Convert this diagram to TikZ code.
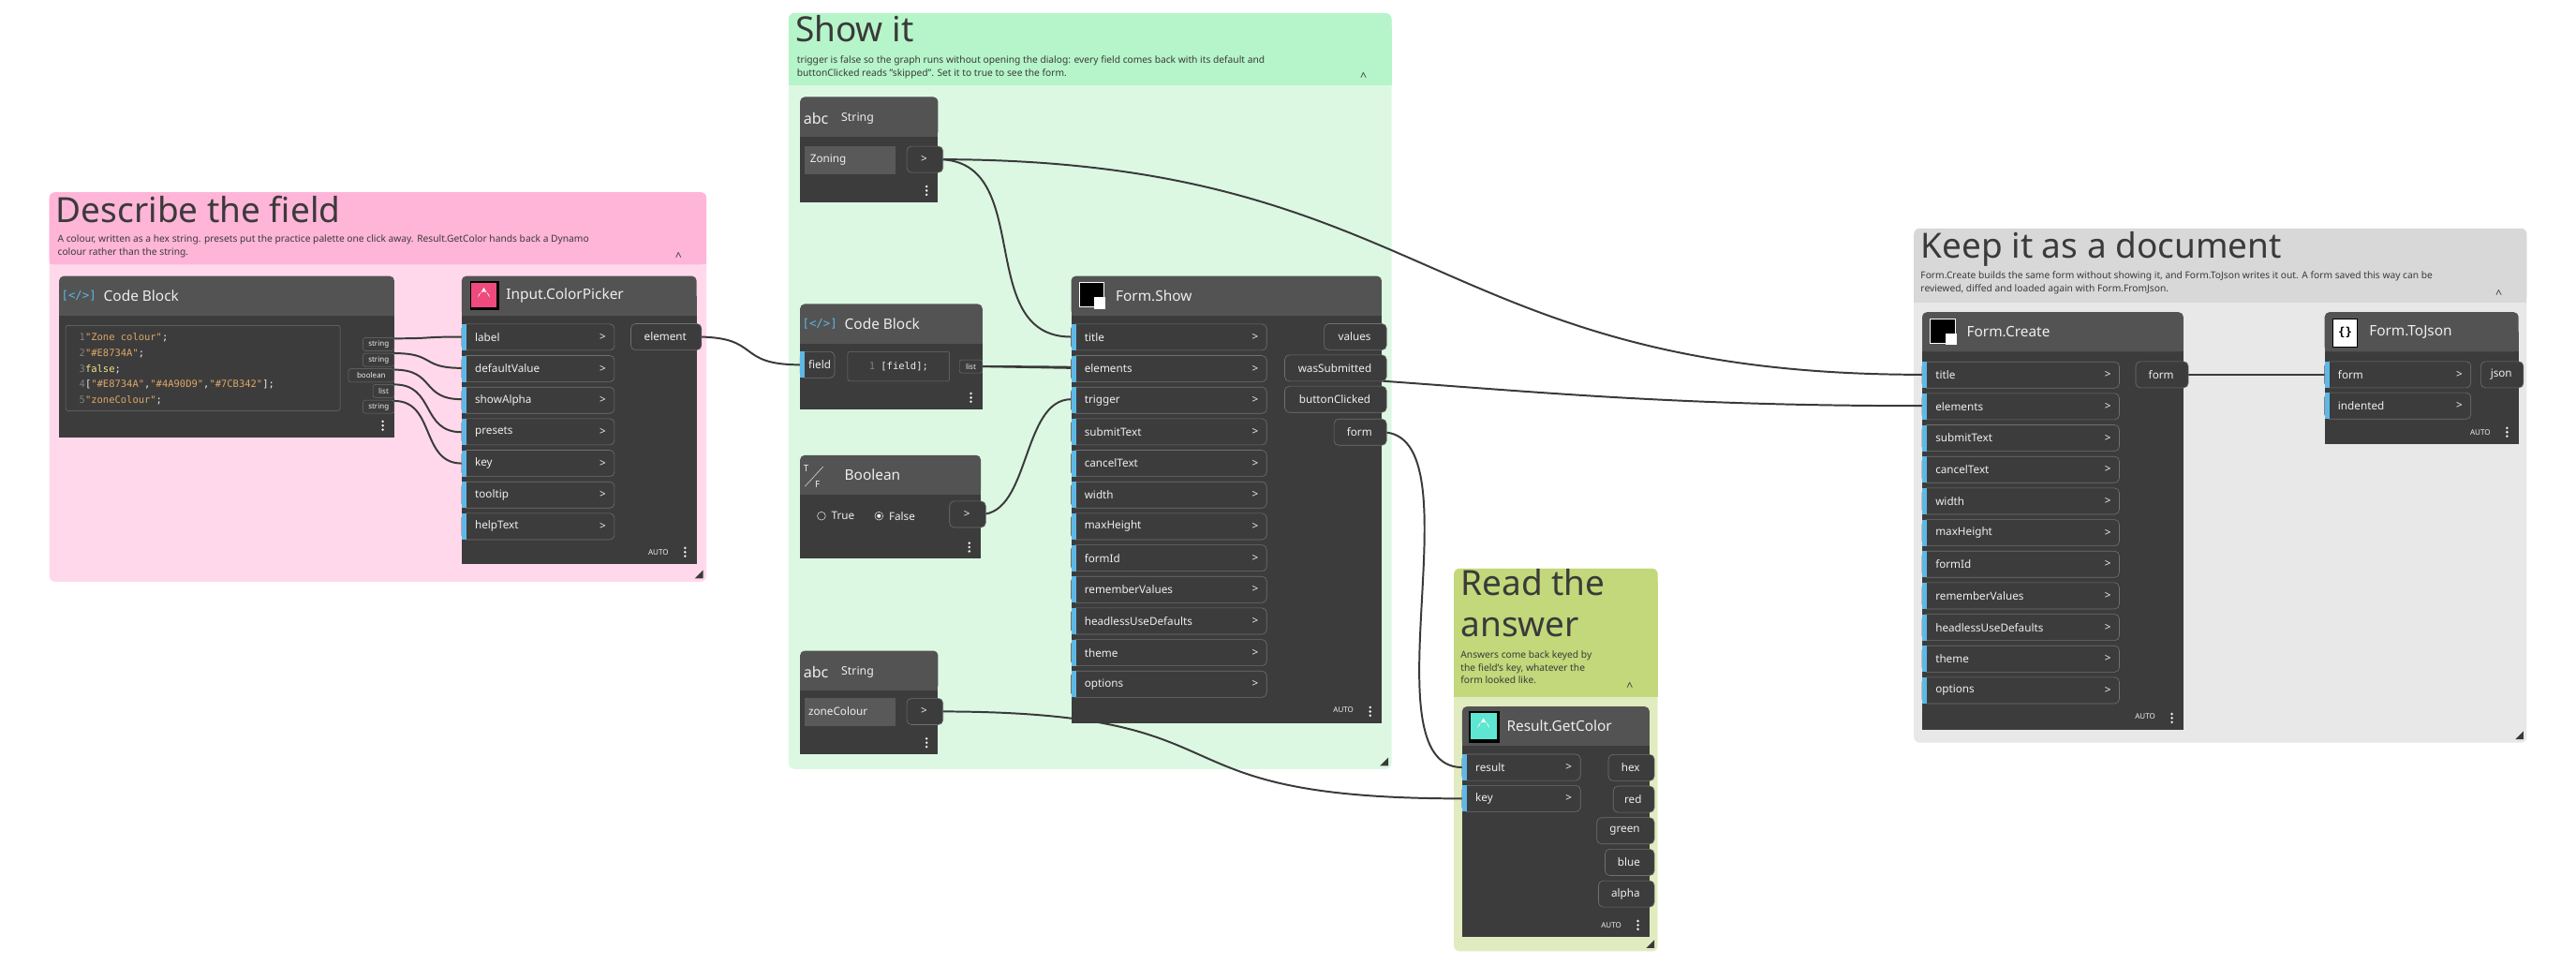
\documentclass[tikz,border=0pt]{standalone}
\usepackage{fontspec}
\setmainfont{Noto Sans}
\setmonofont{DejaVu Sans Mono}
\usetikzlibrary{calc}

\definecolor{pinkhead}{HTML}{FFB5D8}
\definecolor{pinkbody}{HTML}{FFD9EB}
\definecolor{greenhead}{HTML}{B6F5C9}
\definecolor{greenbody}{HTML}{DCF8E3}
\definecolor{grayhead}{HTML}{D8D8D8}
\definecolor{graybody}{HTML}{E8E8E8}
\definecolor{olivehead}{HTML}{C2D87A}
\definecolor{olivebody}{HTML}{E0EBC0}
\definecolor{nhead}{HTML}{535353}
\definecolor{nbody}{HTML}{3C3C3C}
\definecolor{pborder}{HTML}{707070}
\definecolor{pbar}{HTML}{5DB8E6}
\definecolor{ntext}{HTML}{EEEEEE}
\definecolor{gtext}{HTML}{3A3A3A}
\definecolor{codestr}{HTML}{E0A868}
\definecolor{codekw}{HTML}{F2E68C}
\definecolor{wirec}{HTML}{3A3A3A}
\definecolor{pickerpink}{HTML}{EE4A7E}
\definecolor{resultteal}{HTML}{5EE6D2}

\tikzset{
  wire/.style={wirec, line width=1.6pt},
  portbox/.style={draw=pborder, fill=nbody, line width=0.5pt, rounded corners=4pt},
  plabel/.style={text=ntext, inner sep=0pt, font=\fontsize{9.5}{11}\selectfont},
  ntitle/.style={text=ntext, inner sep=0pt, anchor=west, font=\fontsize{12.5}{14}\selectfont},
  gtitle/.style={text=gtext, inner sep=0pt, anchor=north west, font=\fontsize{30}{34}\selectfont},
  gdesc/.style={text=gtext, inner sep=0pt, anchor=north west, align=left, font=\fontsize{8.3}{11}\selectfont},
  small/.style={text=ntext, inner sep=0pt, font=\fontsize{6.5}{7}\selectfont},
  code/.style={text=ntext, anchor=west, inner sep=0pt, font=\fontsize{8.5}{9}\ttfamily},
}

% group: x, y, w, h, head height, head colour, body colour
\newcommand\dyngroup[7]{%
  \fill[#7, rounded corners=5pt] (#1,#2) rectangle ++(#3,#4);
  \fill[#6, rounded corners=5pt] (#1,#2) rectangle ++(#3,#5);
  \fill[#6] (#1,#2+8) rectangle ++(#3,#5-8);
  \fill[gtext] (#1+#3-2,#2+#4-2) -- ++(0,-5) -- ++(-5,5) -- cycle;}
% node: x, y, w, h, title
\newcommand\dynnode[5]{%
  \fill[nbody] (#1,#2+12) rectangle ++(#3,#4-12);
  \fill[nhead, rounded corners=4pt] (#1,#2) rectangle ++(#3,24);
  \fill[nhead] (#1,#2+12) rectangle ++(#3,12);
  \node[ntitle] at (#1+27,#2+12) {#5};
  \foreach \d in {-2.5,0,2.5} \fill[ntext] (#1+#3-7,#2+#4-7+\d) circle (0.8);}
% input port: name, x, y, w, label
\newcommand\inport[5]{%
  \draw[portbox] (#2,#3-8) rectangle ++(#4,16);
  \fill[pbar] (#2,#3-8) rectangle ++(3,16);
  \node[plabel, anchor=west] at (#2+8,#3) {#5};
  \node[plabel, anchor=east] at (#2+#4-5,#3) {>};
  \coordinate (#1) at (#2,#3);}
% output port: name, right x, y, w, label
\newcommand\outport[5]{%
  \draw[portbox] (#2-#4,#3-8) rectangle (#2+3,#3+8);
  \node[plabel] at (#2-#4/2+1,#3) {#5};
  \coordinate (#1) at (#2,#3);}
\newcommand\autotag[2]{\node[small, anchor=east] at (#1,#2) {AUTO};}

\begin{document}
\begin{tikzpicture}[x=0.05cm, y=-0.05cm]
\useasboundingbox (0,0) rectangle (1568,587);

% groups
\dyngroup{30}{117}{400}{237}{44}{pinkhead}{pinkbody}
\dyngroup{480}{8}{367}{460}{44}{greenhead}{greenbody}
\dyngroup{1165}{139}{373}{313}{45}{grayhead}{graybody}
\dyngroup{885}{346}{124}{233}{78}{olivehead}{olivebody}

\node[gtitle] at (34,119) {Describe the field};
\node[gdesc] at (35,143) {A colour, written as a hex string. presets put the practice palette one click away. Result.GetColor hands back a Dynamo\\colour rather than the string.};
\node[gtitle] at (484,9) {Show it};
\node[gdesc] at (485,34) {trigger is false so the graph runs without opening the dialog: every field comes back with its default and\\buttonClicked reads "skipped". Set it to true to see the form.};
\node[gtitle] at (1169,141) {Keep it as a document};
\node[gdesc] at (1169,165) {Form.Create builds the same form without showing it, and Form.ToJson writes it out. A form saved this way can be\\reviewed, diffed and loaded again with Form.FromJson.};
\node[gtitle, align=left, font=\fontsize{30}{36}\selectfont] at (889,346) {Read the\\answer};
\node[gdesc] at (889,396) {Answers come back keyed by\\the field's key, whatever the\\form looked like.};
\foreach \gx/\gy in {421/156, 838/47, 1529/179, 1000/418}
  \node[text=gtext, inner sep=0pt, font=\fontsize{10}{10}\selectfont] at (\gx-8,\gy) {\textasciicircum};

% wires
\coordinate (cb-1) at (240,206);
\coordinate (cb-2) at (240,215);
\coordinate (cb-3) at (240,225);
\coordinate (cb-4) at (240,234);
\coordinate (cb-5) at (240,244);
\coordinate (cp-1) at (281,205);
\coordinate (cp-2) at (281,224);
\coordinate (cp-3) at (281,243);
\coordinate (cp-4) at (281,263);
\coordinate (cp-5) at (281,282);
\foreach \i in {1,...,5}
  \draw[wire] (cb-\i) .. controls +(25,0) and +(-25,0) .. (cp-\i);
\coordinate (cp-out) at (424,205);
\coordinate (cb2-in) at (487,222);
\coordinate (cb2-out) at (598,223);
\coordinate (zon-out) at (571,97);
\coordinate (bool-out) at (597,313);
\coordinate (zc-out) at (571,433);
\coordinate (fs-title) at (652,205);
\coordinate (fs-elem) at (652,224);
\coordinate (fs-trig) at (652,243);
\coordinate (fs-form) at (841,263);
\coordinate (fc-title) at (1170,228);
\coordinate (fc-elem) at (1170,247);
\coordinate (fc-form) at (1329,228);
\coordinate (tj-form) at (1415,228);
\coordinate (gc-res) at (890,467);
\coordinate (gc-key) at (890,486);
\draw[wire] (cp-out) .. controls +(40,0) and +(-40,0) .. (cb2-in);
\draw[wire] (cb2-out) -- (fs-elem);
\draw[wire] (cb2-out) .. controls +(250,0) and +(-250,0) .. (fc-elem);
\draw[wire] (zon-out) .. controls +(60,0) and +(-60,0) .. (fs-title);
\draw[wire] (zon-out) .. controls +(300,0) and +(-300,0) .. (fc-title);
\draw[wire] (bool-out) .. controls +(30,0) and +(-30,0) .. (fs-trig);
\draw[wire] (fs-form) .. controls +(60,0) and +(-60,0) .. (gc-res);
\draw[wire] (zc-out) .. controls +(200,0) and +(-200,0) .. (gc-key);
\draw[wire] (fc-form) -- (tj-form);

% Code Block
\dynnode{36}{168}{204}{98}{Code Block}
\node[text=pbar, inner sep=0pt, font=\fontsize{10}{10}\ttfamily] at (48,180) {[</>]};
\draw[pborder, rounded corners=2pt] (40,198) rectangle (207,250);
\foreach \ln/\txt [count=\i] in {
  1/{\textcolor{codestr}{"Zone colour"};},
  2/{\textcolor{codestr}{"\#E8734A"};},
  3/{\textcolor{codekw}{false};},
  4/{[\textcolor{codestr}{"\#E8734A"},\textcolor{codestr}{"\#4A90D9"},\textcolor{codestr}{"\#7CB342"}];},
  5/{\textcolor{codestr}{"zoneColour"};}}
  \node[code] at (44,196+\i*9.5) {\makebox[1.3em][r]{\textcolor{gray}{\ln}}\txt};
\foreach \lbl/\w [count=\i] in {string/19, string/19, boolean/28, list/13, string/19} {
  \draw[pborder, fill=nbody, rounded corners=2pt] (240-\w,196+\i*9.5) rectangle (240,204+\i*9.5);
  \node[small] at (240-\w/2,200+\i*9.5) {\lbl};
}

% Input.ColorPicker
\dynnode{281}{168}{143}{175}{Input.ColorPicker}
\fill[black] (286,171) rectangle ++(18,18);
\fill[pickerpink] (287,172) rectangle ++(15,15);
\fill[white] (294.5,175) -- (291,181) arc (180:360:3.5) -- cycle;
\foreach \lbl [count=\i] in {label,defaultValue,showAlpha,presets,key,tooltip,helpText}
  \inport{cpin-\i}{281}{186+\i*19.2}{93}{\lbl};
\outport{cpo}{424}{205}{40}{element}
\autotag{407}{336}

% String Zoning
\dynnode{487}{59}{84}{64}{}
\node[ntitle, font=\fontsize{13}{14}\selectfont] at (489,72) {abc};
\node[ntitle, font=\fontsize{10}{12}\selectfont] at (512,72) {String};
\fill[gray!70!black] (490,89) rectangle (545,106);
\node[plabel, anchor=west] at (493,97) {Zoning};
\outport{zon}{571}{97}{19}{>}

% Code Block field
\dynnode{487}{185}{111}{64}{Code Block}
\node[text=pbar, inner sep=0pt, font=\fontsize{10}{10}\ttfamily] at (499,197) {[</>]};
\draw[portbox] (487,214) rectangle (508,230);
\fill[pbar] (487,214) rectangle ++(3,16);
\node[plabel, anchor=west] at (492,222) {field};
\draw[pborder, rounded corners=2pt] (516,214) rectangle (578,232);
\node[code, anchor=center] at (547,223) {\textcolor{gray}{1} [field];};
\draw[pborder, fill=nbody, rounded corners=2pt] (584,219) rectangle (598,227);
\node[small] at (591,223) {list};

% Boolean
\dynnode{487}{277}{110}{63}{Boolean}
\node[ntitle, font=\fontsize{8}{8}\selectfont] at (489,285) {T};
\node[ntitle, font=\fontsize{8}{8}\selectfont] at (496,295) {F};
\draw[ntext, line width=0.4pt] (490,296) -- (501,284);
\draw[ntext, line width=0.4pt] (500,314) circle (2.5);
\node[plabel, anchor=west] at (506,314) {True};
\draw[ntext, line width=0.4pt] (535,314) circle (2.5);
\fill[ntext] (535,314) circle (1.2);
\node[plabel, anchor=west] at (541,314) {False};
\outport{boo}{597}{313}{19}{>}

% String zoneColour
\dynnode{487}{396}{84}{63}{}
\node[ntitle, font=\fontsize{13}{14}\selectfont] at (489,409) {abc};
\node[ntitle, font=\fontsize{10}{12}\selectfont] at (512,409) {String};
\fill[gray!70!black] (490,425) rectangle (545,442);
\node[plabel, anchor=west] at (492,433) {zoneColour};
\outport{zc}{571}{433}{19}{>}

% Form.Show
\dynnode{652}{168}{189}{272}{Form.Show}
\draw[white, fill=black, line width=0.8pt] (657,172) rectangle ++(15,15);
\fill[white] (666,181) rectangle ++(7,7);
\foreach \lbl [count=\i] in {title,elements,trigger,submitText,cancelText,width,maxHeight,formId,rememberValues,headlessUseDefaults,theme,options}
  \inport{fsin-\i}{652}{186+\i*19.2}{119}{\lbl};
\outport{fso-1}{841}{205}{35}{values}
\outport{fso-2}{841}{224}{59}{wasSubmitted}
\outport{fso-3}{841}{243}{59}{buttonClicked}
\outport{fso-4}{841}{263}{29}{form}
\autotag{824}{432}

% Result.GetColor
\dynnode{890}{430}{114}{140}{Result.GetColor}
\fill[black] (894,433) rectangle ++(19,19);
\fill[resultteal] (895,434) rectangle ++(16,16);
\fill[white] (903,437) -- (899.5,443) arc (180:360:3.5) -- cycle;
\inport{gcin-1}{890}{467}{72}{result}
\inport{gcin-2}{890}{486}{72}{key}
\foreach \lbl/\w [count=\i] in {hex/25, red/22, green/32, blue/27, alpha/31}
  \outport{gco-\i}{1004}{448+\i*19.2}{\w}{\lbl};
\autotag{987}{563}

% Form.Create
\dynnode{1170}{190}{159}{254}{Form.Create}
\draw[white, fill=black, line width=0.8pt] (1175,194) rectangle ++(15,15);
\fill[white] (1184,203) rectangle ++(7,7);
\foreach \lbl [count=\i] in {title,elements,submitText,cancelText,width,maxHeight,formId,rememberValues,headlessUseDefaults,theme,options}
  \inport{fcin-\i}{1170}{209+\i*19.2}{120}{\lbl};
\outport{fco}{1329}{228}{29}{form}
\autotag{1312}{436}

% Form.ToJson
\dynnode{1415}{190}{118}{80}{Form.ToJson}
\draw[black, fill=white, line width=0.8pt] (1420,194) rectangle ++(15,17);
\node[inner sep=0pt, font=\fontsize{10}{10}\ttfamily\bfseries] at (1427.5,202.5) {\{\}};
\inport{tjin-1}{1415}{228}{89}{form}
\inport{tjin-2}{1415}{247}{89}{indented}
\outport{tjo}{1533}{228}{23}{json}
\autotag{1516}{263}
\end{tikzpicture}
\end{document}
